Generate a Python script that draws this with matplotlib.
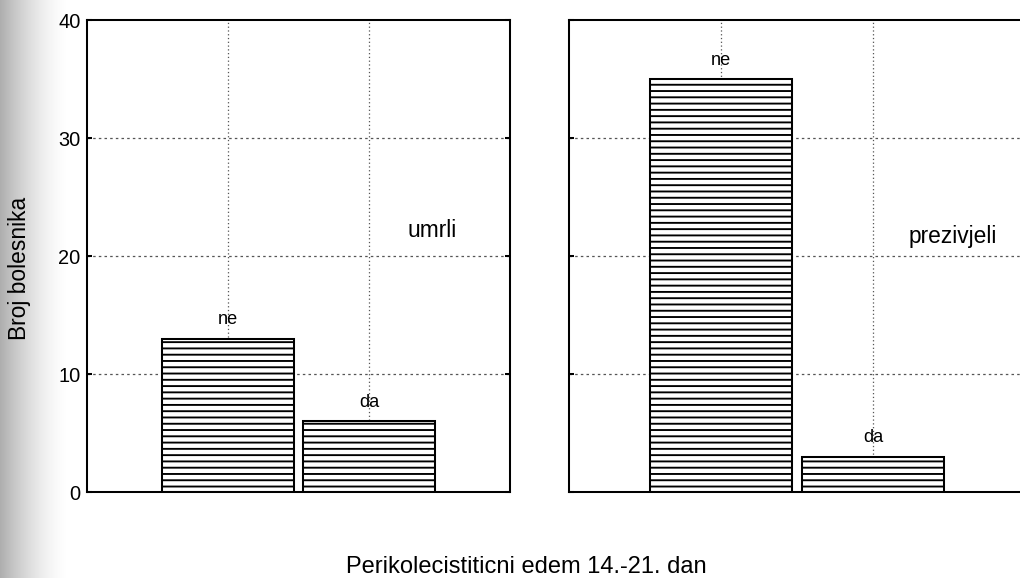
import numpy as np
import matplotlib
matplotlib.use("Agg")
import matplotlib.pyplot as plt

# ---- data ----
categories = ["ne", "da"]
groups = ["umrli", "prezivjeli"]
umrli_values = [13, 6]
prezivjeli_values = [35, 3]
y_ticks = [0, 10, 20, 30, 40]
y_label = "Broj bolesnika"
x_label = "Perikolecistiticni edem 14.-21. dan"

plt.rcParams['font.family'] = ['Liberation Sans', 'DejaVu Sans']
plt.rcParams['hatch.linewidth'] = 1.2
plt.rcParams['hatch.color'] = 'black'

DPI = 340 / 3
fig = plt.figure(figsize=(1020 / DPI, 578 / DPI), dpi=DPI)

# scan shadow on the left edge (smooth fade to white)
bg = fig.add_axes([0, 0, 0.08, 1], zorder=-5)
t = np.linspace(0, 1, 300)
grad = 1 - 0.32 * np.clip(1 - t / 0.85, 0, 1) ** 1.6
bg.imshow(grad[np.newaxis, :], cmap='gray', vmin=0, vmax=1, aspect='auto',
          extent=[0, 1, 0, 1], interpolation='bilinear')
bg.axis('off')

ax_left = fig.add_axes([87 / 1020, 1 - 492 / 578, 423 / 1020, 472 / 578])
ax_right = fig.add_axes([569 / 1020, 1 - 492 / 578, 456 / 1020, 472 / 578])

positions = np.arange(1, len(categories) + 1)

for ax, vals, name, lpos in [
        (ax_left, umrli_values, groups[0], (0.815, 0.553)),
        (ax_right, prezivjeli_values, groups[1], (0.841, 0.542))]:
    ax.set_xlim(0, len(categories) + 1)
    ax.set_ylim(y_ticks[0], y_ticks[-1])
    ax.set_yticks(y_ticks)
    ax.set_xticks([])
    # grid
    for yv in y_ticks[1:-1]:
        ax.axhline(yv, color='#555555', lw=0.8, ls=(0, (2, 2.5)), zorder=0)
    for xv in positions:
        ax.axvline(xv, color='#555555', lw=0.8, ls=(0, (1, 2)), zorder=0)
    ax.bar(positions, vals, width=0.94, facecolor='white',
           edgecolor='black', linewidth=1.3, hatch='---', zorder=2)
    for xv, v, c in zip(positions, vals, categories):
        ax.annotate(c, (xv, v), xytext=(0, 12), textcoords='offset points',
                    ha='center', va='center', fontsize=11.5, zorder=3)
    ax.text(lpos[0], lpos[1], name, transform=ax.transAxes, ha='center',
            va='center', fontsize=14.5)
    for s in ax.spines.values():
        s.set_linewidth(1.3)
    ax.tick_params(axis='y', direction='in', length=3, width=1.3,
                   left=True, right=True, labelsize=12.7, pad=4)
    ax.set_facecolor('white')

ax_right.tick_params(axis='y', labelleft=False)

fig.text(0.019, 0.536, y_label, rotation=90, ha='center', va='center',
         fontsize=14.5)
fig.text(0.516, 0.019, x_label, ha='center', va='center', fontsize=15)

fig.savefig("out.png", dpi=DPI)
